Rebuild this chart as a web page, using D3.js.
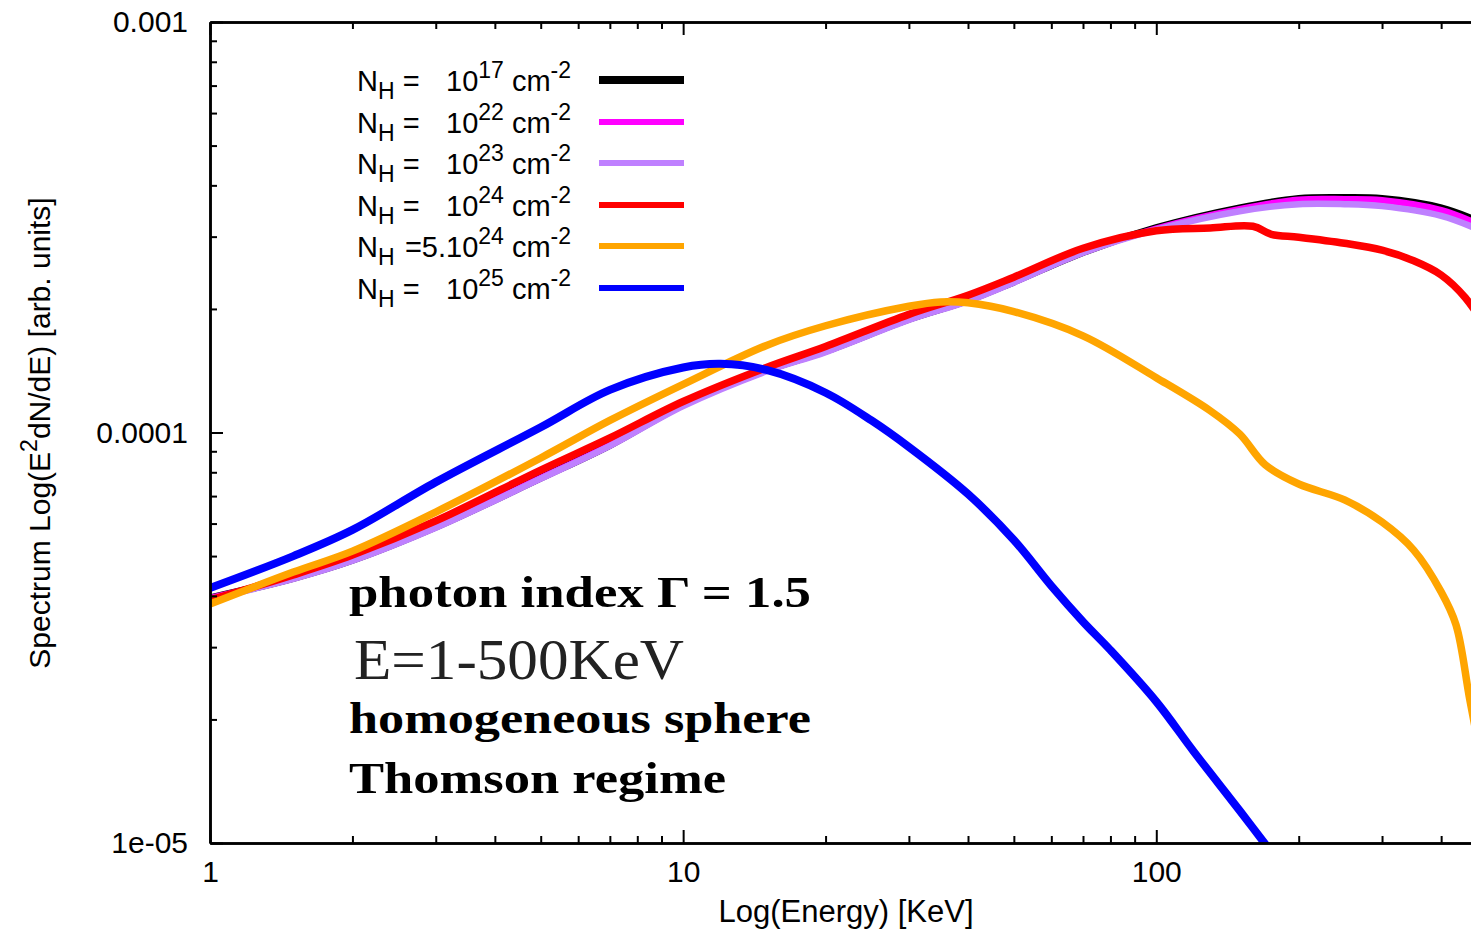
<!DOCTYPE html>
<html>
<head>
<meta charset="utf-8">
<script src="https://cdn.jsdelivr.net/npm/d3@7"></script>
<style>
  body{margin:0;background:#fff;}
  svg{display:block;}
</style>
</head>
<body>
<div id="chart"></div>
<script>
// energies (keV) sampled along each curve
const energyLow = [1,1.5,2,3,5,7,10,15,20,30,40,50,70,100,150,200,250,300,400,500];
const energyRed = [1,1.5,2,3,5,7,10,15,20,30,40,50,70,100,130,160,175,200,250,300,350,400,450,500];
const energyOrange = [1,1.5,2,3,5,7,10,15,20,30,35,40,50,70,100,130,150,170,200,250,300,350,400,430,460,500];
const energyBlue = [1,1.5,2,3,5,7,10,12,15,20,25,30,40,50,60,70,80,100,120,150,175];

// E^2 dN/dE
const nh17 = [3.95e-5,4.42e-5,4.89e-5,5.89e-5,7.75e-5,9.32e-5,1.17e-4,1.42e-4,1.58e-4,1.89e-4,2.10e-4,2.33e-4,2.75e-4,3.15e-4,3.52e-4,3.71e-4,3.73e-4,3.71e-4,3.52e-4,3.20e-4];
const nh22 = [3.95e-5,4.42e-5,4.89e-5,5.89e-5,7.75e-5,9.32e-5,1.17e-4,1.42e-4,1.58e-4,1.89e-4,2.10e-4,2.33e-4,2.75e-4,3.14e-4,3.50e-4,3.69e-4,3.70e-4,3.68e-4,3.48e-4,3.15e-4];
const nh23 = [3.93e-5,4.40e-5,4.87e-5,5.86e-5,7.72e-5,9.28e-5,1.16e-4,1.41e-4,1.57e-4,1.88e-4,2.09e-4,2.32e-4,2.74e-4,3.12e-4,3.46e-4,3.60e-4,3.60e-4,3.56e-4,3.37e-4,3.06e-4];
const nh24 = [3.91e-5,4.50e-5,5.03e-5,6.09e-5,8.10e-5,9.70e-5,1.19e-4,1.44e-4,1.62e-4,1.94e-4,2.16e-4,2.39e-4,2.81e-4,3.10e-4,3.15e-4,3.18e-4,3.04e-4,2.99e-4,2.89e-4,2.78e-4,2.62e-4,2.42e-4,2.13e-4,1.78e-4];
const nh5e24 = [3.82e-5,4.57e-5,5.14e-5,6.40e-5,8.67e-5,1.07e-4,1.31e-4,1.63e-4,1.82e-4,2.03e-4,2.08e-4,2.07e-4,1.97e-4,1.72e-4,1.36e-4,1.13e-4,9.92e-5,8.34e-5,7.49e-5,6.85e-5,6.05e-5,5.17e-5,4.09e-5,3.40e-5,2.23e-5,1.35e-5];
const nh25 = [4.18e-5,5.00e-5,5.79e-5,7.57e-5,1.03e-4,1.27e-4,1.44e-4,1.47e-4,1.42e-4,1.25e-4,1.07e-4,9.22e-5,7.08e-5,5.47e-5,4.23e-5,3.46e-5,2.95e-5,2.21e-5,1.67e-5,1.20e-5,9.51e-6];

// legend
const legendExp = ['17','22','23','24','24','25'];
const legendPre = [' =',' =',' =',' =','=5.',' ='];
const colors = ['#000000','#ff00ff','#bf80ff','#ff0000','#ffa500','#0000ff'];

// ticks
const xMajor = [1,10,100];
const xMinor = [2,3,4,5,6,7,8,9,20,30,40,50,60,70,80,90,200,300,400,500];
const yMajor = [1e-5,1e-4,1e-3];
const yMinor = [2e-5,3e-5,4e-5,5e-5,6e-5,7e-5,8e-5,9e-5,2e-4,3e-4,4e-4,5e-4,6e-4,7e-4,8e-4,9e-4];
const yTickText = ['1e-05','0.0001','0.001'];

// notes on the plot
const notes = ['photon index \u0393 = 1.5','E=1-500KeV','homogeneous sphere','Thomson regime'];

const series = [
  {e:energyLow, v:nh17, w:7.5},
  {e:energyLow, v:nh22, w:6.5},
  {e:energyLow, v:nh23, w:6.5},
  {e:energyRed, v:nh24, w:7.5},
  {e:energyOrange, v:nh5e24, w:7.5},
  {e:energyBlue, v:nh25, w:8}
];

const W = 1471, H = 930;
const pLeft = 210, pRight = 1487, pTop = 22, pBottom = 843;

const svg = d3.select('#chart').append('svg')
  .attr('width', W).attr('height', H)
  .style('font-family', '"Liberation Sans", Arial, sans-serif');

const x = d3.scaleLog().domain([1, 500]).range([pLeft, pRight]);
const y = d3.scaleLog().domain([1e-5, 1e-3]).range([pBottom, pTop]);

svg.append('clipPath').attr('id', 'plotclip')
  .append('rect').attr('x', pLeft).attr('y', pTop)
  .attr('width', pRight - pLeft).attr('height', pBottom - pTop);

// curves
const line = d3.line()
  .x(d => x(d[0]))
  .y(d => y(d[1]))
  .curve(d3.curveCatmullRom.alpha(0.5));

const gl = svg.append('g').attr('clip-path', 'url(#plotclip)');
series.forEach((s, i) => {
  gl.append('path')
    .datum(s.e.map((e, j) => [e, s.v[j]]))
    .attr('d', line)
    .attr('fill', 'none')
    .attr('stroke', colors[i])
    .attr('stroke-width', s.w)
    .attr('stroke-linejoin', 'round');
});

// axes, ticks pointing inward
function styleAxis(g){
  g.selectAll('.domain').attr('stroke', '#000').attr('stroke-width', 2.5);
  g.selectAll('.tick line').attr('stroke', '#000').attr('stroke-width', 2);
  g.selectAll('.tick text').attr('fill', '#000').style('font-size', '30px')
    .style('font-family', '"Liberation Sans", Arial, sans-serif');
}

svg.append('g').attr('transform', `translate(0,${pBottom})`)
  .call(d3.axisBottom(x).tickValues(xMinor).tickSize(-7).tickSizeOuter(0).tickFormat(''))
  .call(styleAxis);
svg.append('g').attr('transform', `translate(0,${pBottom})`)
  .call(d3.axisBottom(x).tickValues(xMajor).tickSize(-13).tickSizeOuter(0).tickPadding(18).tickFormat(d3.format('d')))
  .call(styleAxis);

svg.append('g').attr('transform', `translate(0,${pTop})`)
  .call(d3.axisTop(x).tickValues(xMinor).tickSize(-7).tickSizeOuter(0).tickFormat(''))
  .call(styleAxis);
svg.append('g').attr('transform', `translate(0,${pTop})`)
  .call(d3.axisTop(x).tickValues(xMajor).tickSize(-13).tickSizeOuter(0).tickFormat(''))
  .call(styleAxis);

svg.append('g').attr('transform', `translate(${pLeft},0)`)
  .call(d3.axisLeft(y).tickValues(yMinor).tickSize(-7).tickSizeOuter(0).tickFormat(''))
  .call(styleAxis);
svg.append('g').attr('transform', `translate(${pLeft},0)`)
  .call(d3.axisLeft(y).tickValues(yMajor).tickSize(-13).tickSizeOuter(0).tickPadding(22)
    .tickFormat((d, i) => yTickText[i]))
  .call(styleAxis);

svg.append('g').attr('transform', `translate(${pRight},0)`)
  .call(d3.axisRight(y).tickValues(yMajor).tickSize(-13).tickSizeOuter(0).tickFormat(''))
  .call(styleAxis);

// axis titles
svg.append('text')
  .attr('x', 846).attr('y', 922)
  .attr('text-anchor', 'middle')
  .style('font-size', '31px')
  .text('Log(Energy) [KeV]');

const yt = svg.append('text')
  .attr('transform', 'translate(50,433) rotate(-90)')
  .attr('text-anchor', 'middle')
  .style('font-size', '30px');
yt.append('tspan').text('Spectrum Log(E');
yt.append('tspan').attr('dy', -13).style('font-size', '23px').text('2');
yt.append('tspan').attr('dy', 13).text('dN/dE) [arb. units]');

// legend
const legY = [80, 122, 163, 205, 246, 288];
legendExp.forEach((ex, i) => {
  const row = svg.append('g').attr('transform', `translate(0,${legY[i]})`);
  const a = row.append('text').attr('x', 357).attr('y', 11).style('font-size', '29px');
  a.append('tspan').text('N');
  a.append('tspan').attr('dy', 8).style('font-size', '23px').text('H');
  if (legendPre[i] === ' =') {
    a.append('tspan').attr('dy', -8).text(' =');
  } else {
    // "=5." sits right before the "10"
    row.append('text').attr('x', 446).attr('y', 11).attr('text-anchor', 'end')
      .style('font-size', '29px').text(legendPre[i]);
  }
  const b = row.append('text').attr('x', 446).attr('y', 11).style('font-size', '29px');
  b.append('tspan').text('10');
  b.append('tspan').attr('dy', -13).style('font-size', '23px').text(ex);
  b.append('tspan').attr('dy', 13).text(' cm');
  b.append('tspan').attr('dy', -13).style('font-size', '23px').text('-2');
  row.append('line')
    .attr('x1', 599).attr('x2', 684)
    .attr('stroke', colors[i])
    .attr('stroke-width', i === 0 ? 8 : 6);
});

// notes, serif like the original
const noteY = [607, 679, 733, 793];
const noteW = [462, 330, 462, 377];
const noteSize = [44, 58, 44, 44];
notes.forEach((t, i) => {
  svg.append('text')
    .attr('x', i === 1 ? 354 : 349).attr('y', noteY[i])
    .attr('textLength', noteW[i]).attr('lengthAdjust', 'spacingAndGlyphs')
    .style('font-family', '"Liberation Serif", "DejaVu Serif", serif')
    .style('font-weight', i === 1 ? 'normal' : 'bold')
    .style('font-size', noteSize[i] + 'px')
    .attr('fill', i === 1 ? '#222' : '#000')
    .text(t);
});
</script>
</body>
</html>
